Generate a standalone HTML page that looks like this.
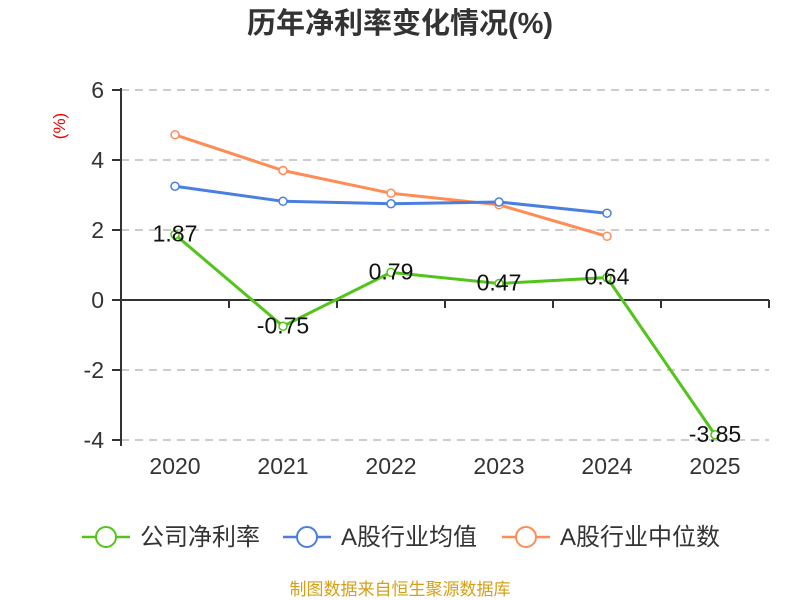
<!DOCTYPE html>
<html><head><meta charset="utf-8"><style>body{margin:0;background:#fff}svg{display:block;font-family:"Liberation Sans","Noto Sans CJK SC",sans-serif}</style></head>
<body>
<svg id="c" width="800" height="600">
<text x="400" y="33" text-anchor="middle" font-size="29" font-weight="bold" fill="#333">历年净利率变化情况(%)</text>
<text x="0" y="0" transform="translate(65,126) rotate(-90)" text-anchor="middle" font-size="17" fill="#e00">(%)</text>
<g id="grid"></g><g id="axes"></g><g id="series"></g>
<g font-size="24" fill="#333">
<g><line x1="82" y1="537" x2="130" y2="537" stroke="#52c41a" stroke-width="2.5"/><circle cx="106" cy="537" r="10" fill="#fff" stroke="#52c41a" stroke-width="2"/><text x="140" y="545">公司净利率</text></g>
<g><line x1="283" y1="537" x2="331" y2="537" stroke="#4a7fe0" stroke-width="2.5"/><circle cx="307" cy="537" r="10" fill="#fff" stroke="#4a7fe0" stroke-width="2"/><text x="341" y="545">A股行业均值</text></g>
<g><line x1="502" y1="537" x2="550" y2="537" stroke="#ff8c55" stroke-width="2.5"/><circle cx="526" cy="537" r="10" fill="#fff" stroke="#ff8c55" stroke-width="2"/><text x="560" y="545">A股行业中位数</text></g>
</g>
<text x="400" y="595" text-anchor="middle" font-size="17" fill="#d4a017">制图数据来自恒生聚源数据库</text>
</svg>
<script>
const categories=['2020','2021','2022','2023','2024','2025'];
const company=[1.87,-0.75,0.79,0.47,0.64,-3.85];
const industryAvg=[3.25,2.82,2.75,2.80,2.48];
const industryMedian=[4.72,3.70,3.05,2.72,1.82];
const yTicks=[6,4,2,0,-2,-4];
const NS='http://www.w3.org/2000/svg';
const x0=121,bw=108,y=v=>300-v*35,x=i=>x0+bw*(i+0.5);
function mk(t,a,p){const e=document.createElementNS(NS,t);for(const k in a)e.setAttribute(k,a[k]);p.appendChild(e);return e;}
const G=document.getElementById('grid'),A=document.getElementById('axes'),S=document.getElementById('series');
yTicks.forEach(v=>{
 if(v!==0){const l=mk('line',{x1:x0,x2:769,y1:y(v),y2:y(v),stroke:'#bbb','stroke-dasharray':'8,6','stroke-width':1.5},G);
 
 }
 mk('line',{x1:112,x2:x0,y1:y(v),y2:y(v),stroke:'#333','stroke-width':2},A);
 const t=mk('text',{x:104,y:y(v)+8,'text-anchor':'end','font-size':23,fill:'#333'},A);t.textContent=v;
 
 
});
mk('line',{x1:x0,x2:x0,y1:88,y2:446,stroke:'#333','stroke-width':2},A);
mk('line',{x1:x0,x2:769,y1:300,y2:300,stroke:'#333','stroke-width':2},A);
for(let i=1;i<=6;i++)mk('line',{x1:x0+bw*i,x2:x0+bw*i,y1:300,y2:308,stroke:'#333','stroke-width':2},A);
categories.forEach((c,i)=>{const t=mk('text',{x:x(i),y:474,'text-anchor':'middle','font-size':23,fill:'#333'},A);t.textContent=c;
 
 });
function series(d,col,name,labels){
 const p=mk('polyline',{points:d.map((v,i)=>x(i)+','+y(v)).join(' '),fill:'none',stroke:col,'stroke-width':3},S);
 
 
 d.forEach((v,i)=>{const c=mk('circle',{cx:x(i),cy:y(v),r:4,fill:'#fff',stroke:col,'stroke-width':1.5},S);
  
  
  if(labels){const t=mk('text',{x:x(i),y:y(v)+7,'text-anchor':'middle','font-size':23,fill:'#111'},S);t.textContent=v.toFixed(2);
  
  }
 });
}
series(industryMedian,'#ff8c55','industry-median',false);
series(industryAvg,'#4a7fe0','industry-avg',false);
series(company,'#52c41a','company',true);
</script>
</body></html>
